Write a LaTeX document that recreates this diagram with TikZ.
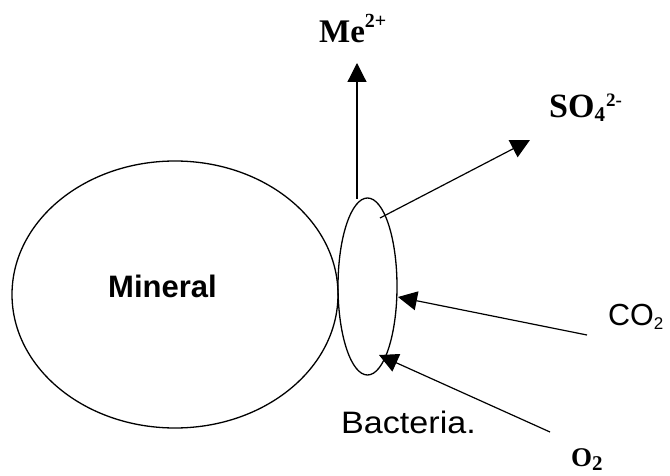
\documentclass[tikz,border=0pt]{standalone}
\usepackage{fontspec}
\setmainfont{Liberation Serif}
\newfontfamily\arial{Liberation Sans}
\usetikzlibrary{arrows.meta}
\tikzset{
  outline/.style={draw=black, line width=1.3pt},
  conn/.style={draw=black, line width=1.2pt, -{Triangle[length=19pt,width=19pt]}},
  lbl/.style={inner sep=0pt, anchor=base west, text=black},
}
\begin{document}
\begin{tikzpicture}[x=1pt,y=-1pt]
\useasboundingbox (0,0) rectangle (670,476);
% shapes
\draw[outline] (175,294.5) ellipse [x radius=163, y radius=133.5];
\draw[outline] (367.5,286.5) ellipse [x radius=29.5, y radius=88.5];
\node[inner sep=0pt] (min) at (175,294.5) {};
\node[inner sep=0pt] (bac) at (367.5,286.5) {};
% labels
\node[lbl] (minlbl) at (108,297) {\arial\bfseries\fontsize{31}{31}\selectfont Mineral};
\node[lbl] (baclbl) at (341,433) {\arial\fontsize{31}{31}\selectfont\scalebox{1.1}[1]{Bacteria.}};
\node[lbl] (me) at (319,43) {\bfseries\fontsize{33}{33}\selectfont Me\raisebox{15pt}{\fontsize{20}{20}\selectfont 2+}};
\node[lbl] (so) at (549,118) {\bfseries\fontsize{34}{34}\selectfont SO\raisebox{-4pt}{\fontsize{21}{21}\selectfont 4}\kern1pt\raisebox{11pt}{\fontsize{19}{19}\selectfont 2-}};
\node[lbl] (co) at (608,325) {\arial\fontsize{30.5}{30.5}\selectfont CO\raisebox{-4pt}{\fontsize{17}{17}\selectfont 2}};
\node[lbl] (ox) at (571,466) {\bfseries\fontsize{27}{27}\selectfont O\raisebox{-4pt}[\height][0pt]{\fontsize{21}{21}\selectfont 2}};
% connector end points
\coordinate (meS) at (357,199);
\coordinate (meT) at (357,63);
\coordinate (soS) at (380,218);
\coordinate (soT) at (530,140);
\coordinate (coS) at (587,335);
\coordinate (coT) at (398,297);
\coordinate (oxS) at (550,432);
\coordinate (oxT) at (379,355);
% connectors
\draw[conn] (meS) -- (meT);
\draw[conn] (soS) -- (soT);
\draw[conn] (coS) -- (coT);
\draw[conn] (oxS) -- (oxT);
\end{tikzpicture}
\end{document}
